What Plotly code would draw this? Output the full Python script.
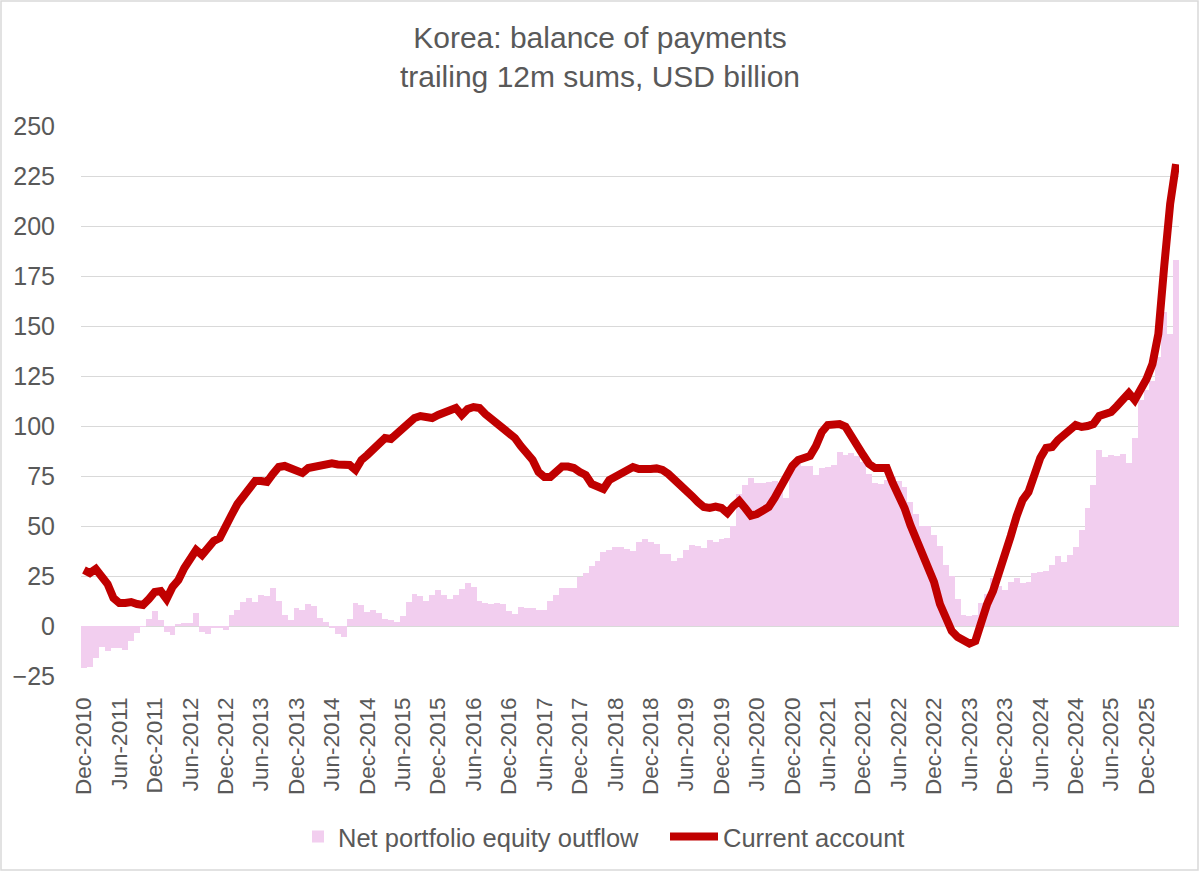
import pandas as pd
import plotly.graph_objects as go

# Trailing 12m sums, USD billion, monthly from Dec-2010
current_account = [
    28, 26.5, 28.5, 25, 21, 14, 11.5, 11.5, 12, 11,
    10.5, 13.5, 17, 17.5, 13.5, 19.5, 23, 29, 34.5, 38,
    35.5, 39.5, 42.5, 44, 49, 55.5, 61, 65, 70, 72.5,
    72.5, 72, 76, 79.5, 80, 78.5, 77, 76.5, 79, 79.5,
    81, 81, 81.3, 80.8, 80.8, 80.5, 78, 83, 85.5, 88.5,
    91.5, 94, 93.5, 96, 99, 101.5, 104, 105, 104, 104,
    105.5, 106.5, 107.5, 109, 105.5, 108.5, 109.5, 109, 106, 103.5,
    100.5, 98.5, 96.5, 94, 90, 87, 83, 77, 74.5, 74.5,
    77, 79.7, 79.7, 79, 77, 75.5, 71, 70.2, 68.5, 73,
    74.5, 77, 78, 79.5, 78.5, 78, 78.5, 78.8, 78, 76,
    73.5, 70.5, 68.5, 65, 62, 59.5, 59, 59.7, 59, 56.5,
    60, 62.5, 59, 55.2, 56, 57.5, 59.5, 64, 69, 75,
    80, 83, 83.5, 85, 90, 97, 100.5, 101, 101, 99.7,
    95.5, 91, 85.5, 81, 79, 79, 79, 71.5, 66, 59,
    50.5, 43, 35, 27, 22, 11, 4, -2.5, -5.5, -7.5,
    -8.8, -7.5, 2, 11, 17.5, 26, 35, 45, 55, 63,
    67, 76, 84, 89, 89.5, 93, 95, 98, 100.5, 99.5,
    100, 101, 105, 106, 107, 110, 113.5, 116.5, 113, 117.5,
    123.5, 131, 146, 180, 211, 231,
]

net_portfolio_equity_outflow = [
    -21, -20.5, -16, -10.5, -12.3, -11, -10.8, -12, -7.3, -3.5,
    -0.5, 3.5, 7.5, 3, -3, -4.5, 1, 1.3, 1.3, 6.5,
    -3, -4, -1, -1, -2, 5.5, 8, 11.8, 14.2, 11.8,
    15.5, 15, 19.2, 12.5, 5.5, 3, 9.2, 8, 11, 10,
    3.8, 2.2, -0.8, -4.2, -5.3, 3.5, 11.3, 10.5, 7.2, 8,
    6.3, 3.5, 3, 2.2, 5.2, 11.8, 15.8, 15, 12.5, 15.5,
    18, 15.5, 13.3, 15.5, 18.5, 21.7, 19.7, 12.5, 11.7, 11.2,
    11.5, 10.8, 7.5, 5.8, 9.5, 8.8, 9.2, 8.2, 7.8, 12.5,
    15.5, 19.2, 19.2, 19.2, 24.7, 26.3, 30.2, 32.5, 37.2, 37.8,
    39.7, 39.7, 38.5, 37.5, 42.2, 43.5, 42.2, 40.8, 36.2, 36,
    32.5, 34.2, 38, 40.5, 40.2, 39.2, 42.8, 41.8, 43.5, 43.8,
    50, 66, 70.5, 74, 71.5, 71.5, 72, 72.5, 68, 64,
    78, 82, 80, 80, 75.5, 78.8, 79.5, 80.5, 86.8, 85.5,
    86.3, 85, 82, 75.8, 71.3, 70.8, 73, 74.7, 72.5, 69.7,
    62, 55.8, 50.2, 50.2, 45.5, 40.2, 30.5, 25, 13.5, 5.5,
    5.2, 5.5, 11.3, 15.8, 23.8, 20, 18, 22.2, 24.2, 21.3,
    22.2, 26.3, 27.2, 27.7, 30.5, 35, 32.2, 35.5, 39.7, 48,
    59.2, 70.5, 88, 84.7, 85.5, 85, 85.8, 81.5, 93.8, 113,
    118, 122.6, 134.6, 157, 146, 183,
]

months = [d.strftime("%b-%Y") for d in
          pd.date_range("2010-12-01", periods=len(current_account), freq="MS")]
tick_labels = months[::6]
y_ticks = [-25, 0, 25, 50, 75, 100, 125, 150, 175, 200, 225, 250]

FONT = "Liberation Sans"
GREY = "#595959"
W, H = 1200, 872

fig = go.Figure()
fig.add_trace(go.Bar(
    x=months, y=net_portfolio_equity_outflow,
    name="Net portfolio equity outflow",
    marker=dict(color="#F2CEEF", line=dict(width=0)),
    legend="legend", showlegend=True,
))
fig.add_trace(go.Scatter(
    x=months, y=current_account, mode="lines",
    name="Current account",
    line=dict(color="#C00000", width=8),
    legend="legend2", showlegend=True,
))

legend_common = dict(
    orientation="h",
    xref="container", xanchor="left",
    yref="container", yanchor="middle", y=1 - 837 / H,
    font=dict(family=FONT, size=25.5, color=GREY),
    bgcolor="rgba(0,0,0,0)",
    visible=True,
)

fig.update_layout(
    width=W, height=H,
    showlegend=True,
    paper_bgcolor="white", plot_bgcolor="white",
    margin=dict(l=81, r=21, t=126, b=196),
    bargap=0,
    font=dict(family=FONT, color=GREY, size=25),
    title=dict(
        text="Korea: balance of payments<br>trailing 12m sums, USD billion",
        font=dict(family=FONT, size=30, color=GREY),
        x=0.5, xref="container", xanchor="center",
        y=1 - 47.5 / H, yref="container", yanchor="middle",
    ),
    legend=dict(legend_common, x=298 / W, itemwidth=30),
    legend2=dict(legend_common, x=665 / W, itemwidth=48),
    xaxis=dict(
        type="category",
        tickmode="array", tickvals=tick_labels, ticktext=tick_labels,
        tickangle=-90,
        tickfont=dict(family=FONT, size=22.5, color=GREY),
        showgrid=False, showline=False, ticks="",
        ticklabelstandoff=16,
        range=[-0.5, len(months) - 0.5],
    ),
    yaxis=dict(
        range=[-25, 250],
        tickmode="array", tickvals=y_ticks,
        tickfont=dict(family=FONT, size=25, color=GREY),
        showgrid=True, gridcolor="#D9D9D9", gridwidth=1.3,
        zeroline=False, showline=False, ticks="",
        ticklabelstandoff=25,
    ),
    shapes=[dict(
        type="rect", xref="paper", yref="paper",
        x0=-80 / 1098, x1=1117 / 1098, y0=-194 / 550, y1=675 / 550,
        line=dict(color="#D9D9D9", width=1.5), fillcolor="rgba(0,0,0,0)",
        layer="below",
    )],
)

fig.write_html("out.html", post_script="document.body.style.margin='0';",
               config={"displayModeBar": False})
